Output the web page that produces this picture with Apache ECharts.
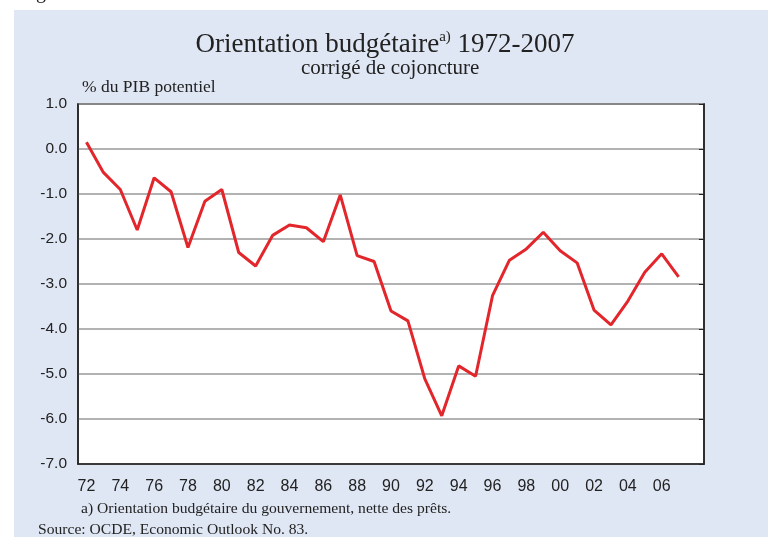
<!DOCTYPE html>
<html>
<head>
<meta charset="utf-8">
<script src="https://cdn.jsdelivr.net/npm/echarts@6/dist/echarts.min.js"></script>
<style>
  html, body { margin: 0; padding: 0; background: #fff; }
  #main { width: 770px; height: 537px; }
</style>
</head>
<body>
<div id="main"></div>
<script>
// années 1972-2008 (la dernière case reste vide)
var years = ['72', '73', '74', '75', '76', '77', '78', '79', '80', '81', '82', '83', '84', '85', '86', '87', '88', '89',
    '90', '91', '92', '93', '94', '95', '96', '97', '98', '99', '00', '01', '02', '03', '04', '05', '06', '07', ''];

// orientation budgétaire, % du PIB potentiel
var orientation = [0.15, -0.52, -0.90, -1.80, -0.64, -0.95, -2.19, -1.16, -0.90, -2.30, -2.60, -1.92, -1.69, -1.75,
    -2.06, -1.02, -2.37, -2.50, -3.60, -3.82, -5.11, -5.93, -4.82, -5.05, -3.26, -2.47, -2.22, -1.85, -2.26, -2.53,
    -3.58, -3.91, -3.38, -2.74, -2.33, -2.84];

var yTicks = {min: -7, max: 1, interval: 1};

var myChart = echarts.init(document.getElementById('main'));
var serif = '"Liberation Serif", "DejaVu Serif", serif';
var sans = '"Liberation Sans", Arial, sans-serif';

var option = {
    animation: false,
    backgroundColor: '#fff',
    graphic: [
        {type: 'rect', z: -10, shape: {x: 14, y: 10, width: 754, height: 530}, style: {fill: '#e0e7f4'}},
        {type: 'text', left: 36, top: -17, style: {text: 'g', font: '20px ' + serif, fill: '#222'}},
        {type: 'text', left: 301, top: 58, style: {text: 'corrigé de cojoncture', font: '21px ' + serif, fill: '#222'}},
        {type: 'text', left: 82, top: 78, style: {text: '% du PIB potentiel', font: '17.5px ' + serif, fill: '#222'}},
        {type: 'text', left: 81, top: 501, style: {text: 'a) Orientation budgétaire du gouvernement, nette des prêts.', font: '15.6px ' + serif, fill: '#222'}},
        {type: 'text', left: 38, top: 522, style: {text: 'Source: OCDE, Economic Outlook No. 83.', font: '15.6px ' + serif, fill: '#222'}}
    ],
    title: {
        left: 'center',
        top: 25,
        text: '{t|Orientation budgétaire}{s|a)}{t| 1972-2007}',
        textStyle: {
            rich: {
                t: {fontFamily: serif, fontSize: 27, fontWeight: 'normal', color: '#222', verticalAlign: 'bottom'},
                s: {fontFamily: serif, fontSize: 15, fontWeight: 'normal', color: '#222', verticalAlign: 'top', padding: [0, 0, 13, 0]}
            }
        }
    },
    grid: {
        left: 78, top: 104, right: 66, bottom: 73,
        show: true, backgroundColor: '#fff', borderColor: '#222', borderWidth: 1.5
    },
    xAxis: {
        type: 'category',
        data: years,
        boundaryGap: true,
        axisLine: {onZero: false, lineStyle: {color: '#222', width: 1.5}},
        axisTick: {inside: true, length: 5, interval: 0, lineStyle: {color: '#222'}},
        axisLabel: {interval: 1, margin: 15, fontFamily: sans, fontSize: 16, color: '#222'}
    },
    yAxis: [{
        type: 'value',
        min: yTicks.min, max: yTicks.max, interval: yTicks.interval,
        axisLine: {show: true, lineStyle: {color: '#222', width: 1.5}},
        axisTick: {show: false},
        splitLine: {lineStyle: {color: '#999', width: 1.5}},
        axisLabel: {
            margin: 11, fontFamily: sans, fontSize: 15.5, color: '#222',
            formatter: function (v) { return v.toFixed(1); }
        }
    }, {
        type: 'value',
        position: 'right',
        min: yTicks.min, max: yTicks.max, interval: yTicks.interval,
        axisLine: {show: true, lineStyle: {color: '#222', width: 1.5}},
        axisTick: {show: true, inside: true, length: 5, lineStyle: {color: '#222'}},
        axisLabel: {show: false},
        splitLine: {show: false}
    }],
    series: [{
        name: 'Orientation budgétaire',
        type: 'line',
        data: orientation,
        symbol: 'none',
        lineStyle: {color: '#e2262b', width: 3}
    }]
};
myChart.setOption(option);
</script>
</body>
</html>
